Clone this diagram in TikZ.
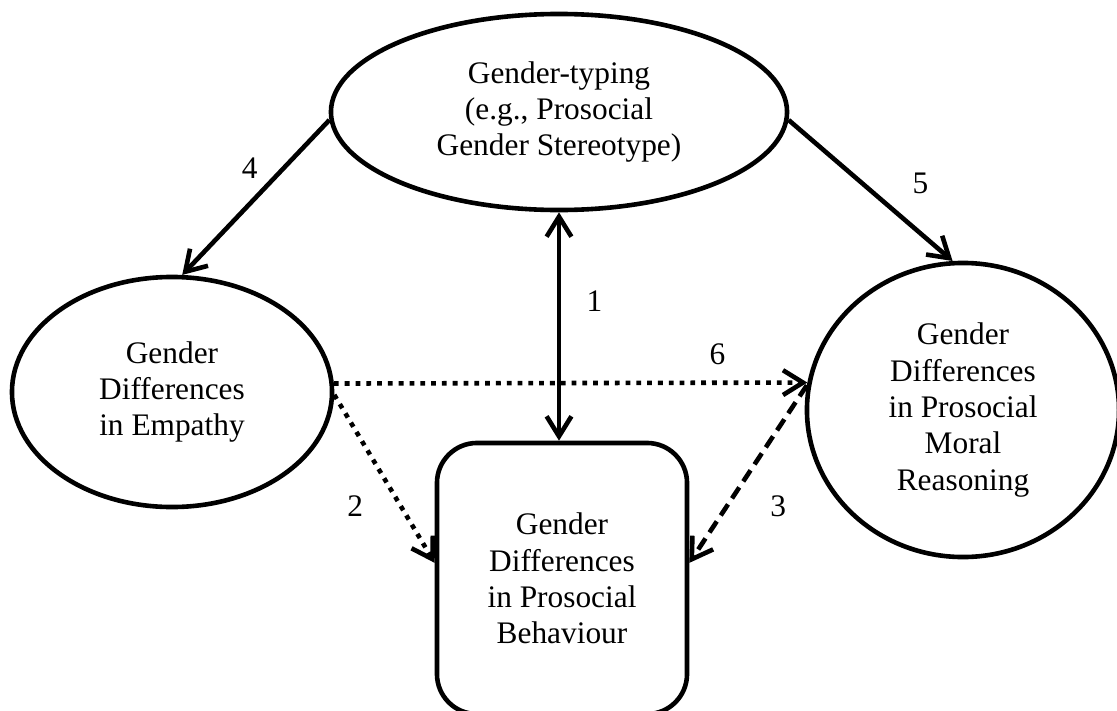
\documentclass[tikz,border=0pt]{standalone}
\usepackage{fontspec}
\setmainfont{Liberation Serif}
\usetikzlibrary{shapes.geometric,arrows.meta,positioning}

\begin{document}
\begin{tikzpicture}[x=0.025cm,y=-0.025cm,line width=0.115cm,
    >={Straight Barb[length=0.5cm,width=0.62cm]},
    every node/.style={font=\fontsize{22.3}{25.8}\selectfont,align=center},
    oval/.style={draw,ellipse,inner sep=0pt},
    box/.style={draw,rectangle,rounded corners=1cm,inner sep=0pt},
    num/.style={inner sep=0pt},
    dots/.style={dash pattern=on 0.12cm off 0.15cm},
    dashes/.style={dash pattern=on 0.33cm off 0.18cm}]
  \useasboundingbox (0,0) rectangle (1117,710);
  \node (gt) [oval,minimum width=11.4cm,minimum height=4.9cm] at (559,112)
    {Gender-typing\\(e.g., Prosocial\\Gender Stereotype)};
  \node (emp) [oval,minimum width=8cm,minimum height=5.75cm] at (172,392)
    {Gender\\Differences\\in Empathy};
  \node (mor) [oval,minimum width=7.8cm,minimum height=7.35cm] at (963,410)
    {Gender\\Differences\\in Prosocial\\Moral\\Reasoning};
  \node (beh) [box,minimum width=6.25cm,minimum height=6.775cm] at (562,578.5)
    {Gender\\Differences\\in Prosocial\\Behaviour};
  \path[->]
    (gt.182) edge node (n4) [num,pos=0.31,left=0.6cm] {4} (emp.85)
    (gt.-2) edge node (n5) [num,pos=0.45,right=1.2cm] {5} (mor.94)
    (gt.south) edge [<->] node (n1) [num,pos=0.39,right=0.63cm] {1} (gt.south |- beh.north)
    (emp.3) edge [dots] node (n6) [num,pos=0.81,above=0.38cm] {6} (mor.170)
    (emp.-1) edge [dots] node (n2) [num,pos=0.66,left=0.88cm] {2} (beh.173)
    (mor.171) edge [dashes] node (n3) [num,pos=0.68,right=1.03cm] {3} (beh.7);
\end{tikzpicture}
\end{document}
